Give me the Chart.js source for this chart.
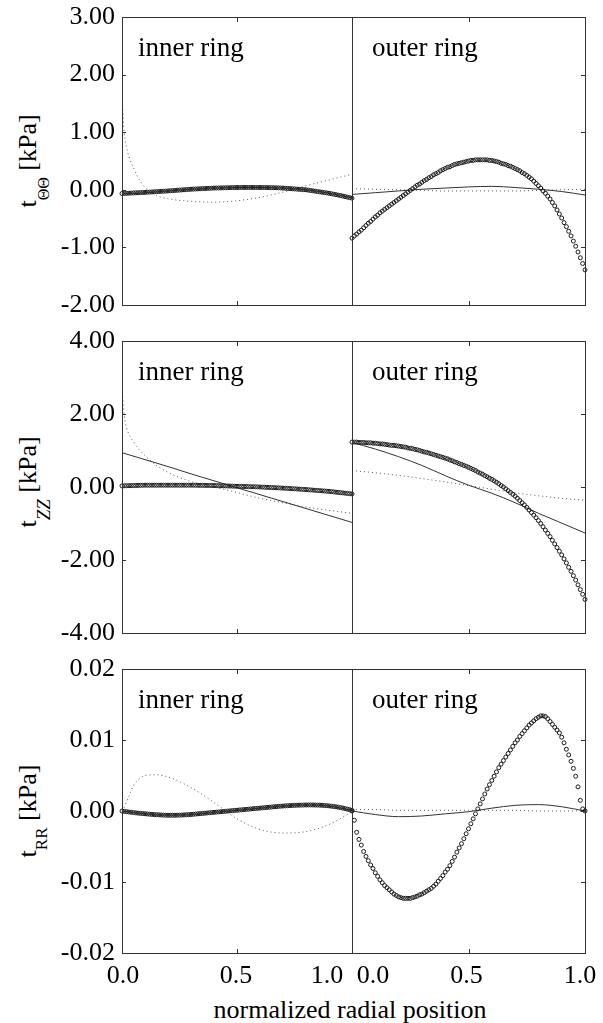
<!DOCTYPE html>
<html><head><meta charset="utf-8">
<script src="https://cdn.jsdelivr.net/npm/chart.js@4.4.1/dist/chart.umd.min.js"></script>
<style>
html,body{margin:0;padding:0;background:#fff;}
body{width:603px;height:1023px;position:relative;overflow:hidden;font-family:"Liberation Serif","Times New Roman",Times,serif;color:#000;}
canvas{position:absolute;}
.yt{position:absolute;white-space:nowrap;font-size:26px;line-height:26px;transform:translate(-50%,-50%) rotate(-90deg);}
.yt sub{position:relative;vertical-align:baseline;line-height:0;}
.xt{position:absolute;white-space:nowrap;font-size:26px;line-height:26px;transform:translateX(-50%);}
</style></head>
<body>
<div class="yt" style="left:28px;top:161px">t<sub style="font-size:16px;top:13px">ΘΘ</sub> [kPa]</div>
<div class="yt" style="left:28px;top:482px">t<sub style="font-size:19px;top:14px"><i>ZZ</i></sub> [kPa]</div>
<div class="yt" style="left:28px;top:811px">t<sub style="font-size:17px;top:11px">RR</sub> [kPa]</div>
<div class="xt" style="left:350px;top:997px">normalized radial position</div>
<script>
const FONT = '"Liberation Serif","Times New Roman",Times,serif';

// sample positions (normalized radial position)
const rGrid = Array.from({length: 101}, (_, i) => i / 100);
const xL = [0,0.1,0.2,0.3,0.4,0.5,0.6,0.7,0.8,0.9,1.0];
const xD = [0,0.01,0.02,0.03,0.05,0.075,0.1,0.15,0.2,0.3,0.4,0.5,0.6,0.7,0.8,0.9,1.0];

// tick labels
const xTickValues = [0, 0.5, 1.0];
const xTickLabels = ['0.0', '0.5', '1.0'];
const ringLabels = ['inner ring', 'outer ring'];
const yTicksTT = [-2, -1, 0, 1, 2, 3];
const yLabelsTT = ['-2.00', '-1.00', '0.00', '1.00', '2.00', '3.00'];
const yTicksZZ = [-4, -2, 0, 2, 4];
const yLabelsZZ = ['-4.00', '-2.00', '0.00', '2.00', '4.00'];
const yTicksRR = [-0.02, -0.01, 0, 0.01, 0.02];
const yLabelsRR = ['-0.02', '-0.01', '0.00', '0.01', '0.02'];

// ---- t_ΘΘ ----
const ttInnerCircles = [-0.065,-0.063,-0.061,-0.059,-0.057,-0.055,-0.053,-0.051,-0.049,-0.047,
 -0.045,-0.042,-0.040,-0.037,-0.035,-0.032,-0.030,-0.027,-0.025,-0.022,
 -0.020,-0.017,-0.014,-0.011,-0.008,-0.005,-0.002,0.001,0.004,0.007,
 0.010,0.012,0.014,0.016,0.018,0.020,0.022,0.024,0.026,0.028,
 0.030,0.031,0.032,0.033,0.034,0.035,0.036,0.037,0.038,0.039,
 0.040,0.040,0.041,0.041,0.041,0.041,0.041,0.041,0.040,0.040,
 0.040,0.040,0.039,0.039,0.038,0.037,0.036,0.035,0.033,0.032,
 0.030,0.027,0.024,0.021,0.018,0.015,0.012,0.009,0.006,0.003,
 0.000,-0.006,-0.012,-0.018,-0.024,-0.030,-0.036,-0.042,-0.048,-0.054,
 -0.060,-0.068,-0.076,-0.084,-0.092,-0.100,-0.109,-0.118,-0.127,-0.136,
 -0.145];
const ttInnerSolid = [-0.07,-0.05,-0.02,0.01,0.03,0.04,0.04,0.03,0.00,-0.06,-0.14];
const ttInnerDotted = [1.60,0.98,0.73,0.58,0.38,0.18,0.04,-0.10,-0.155,-0.20,-0.215,-0.19,-0.13,-0.04,0.07,0.17,0.27];
const ttOuterCircles = [-0.84,-0.80,-0.77,-0.73,-0.70,-0.66,-0.62,-0.58,-0.55,-0.51,
 -0.47,-0.44,-0.40,-0.37,-0.34,-0.31,-0.28,-0.25,-0.22,-0.19,
 -0.16,-0.13,-0.10,-0.07,-0.04,-0.01,0.02,0.05,0.08,0.10,
 0.13,0.16,0.18,0.21,0.23,0.26,0.28,0.30,0.33,0.35,
 0.37,0.39,0.40,0.42,0.44,0.45,0.46,0.47,0.48,0.49,
 0.50,0.51,0.51,0.52,0.52,0.52,0.52,0.52,0.52,0.51,
 0.51,0.50,0.49,0.48,0.46,0.45,0.44,0.42,0.41,0.39,
 0.37,0.35,0.33,0.30,0.28,0.25,0.22,0.19,0.15,0.11,
 0.07,0.03,-0.02,-0.06,-0.11,-0.16,-0.22,-0.28,-0.35,-0.42,
 -0.49,-0.57,-0.64,-0.72,-0.80,-0.89,-0.98,-1.08,-1.18,-1.28,
 -1.39];
const ttOuterSolid = [-0.08,-0.05,-0.02,0.01,0.03,0.05,0.06,0.04,0.01,-0.03,-0.09];
const ttOuterDotted = [0.02,0.01,0.00,-0.01,-0.02,-0.02,-0.02,-0.02,-0.01,0.00,0.01];

// ---- t_ZZ ----
const zzInnerCircles = [0.030,0.032,0.034,0.036,0.038,0.040,0.042,0.044,0.046,0.048,
 0.050,0.050,0.050,0.050,0.050,0.050,0.050,0.050,0.050,0.050,
 0.050,0.050,0.050,0.050,0.050,0.050,0.050,0.050,0.050,0.050,
 0.050,0.049,0.048,0.047,0.046,0.045,0.044,0.043,0.042,0.041,
 0.040,0.038,0.036,0.034,0.032,0.030,0.028,0.026,0.024,0.022,
 0.020,0.018,0.016,0.014,0.012,0.010,0.008,0.006,0.004,0.002,
 0.000,-0.003,-0.006,-0.009,-0.012,-0.015,-0.018,-0.021,-0.024,-0.027,
 -0.030,-0.034,-0.038,-0.042,-0.046,-0.050,-0.054,-0.058,-0.062,-0.066,
 -0.070,-0.075,-0.080,-0.085,-0.090,-0.095,-0.100,-0.105,-0.110,-0.115,
 -0.120,-0.127,-0.134,-0.141,-0.148,-0.155,-0.162,-0.169,-0.176,-0.183,
 -0.190];
const zzInnerSolid = [0.94,0.75,0.56,0.36,0.17,-0.02,-0.21,-0.40,-0.59,-0.78,-0.97];
const zzInnerDotted = [2.70,1.95,1.62,1.45,1.24,1.02,0.86,0.59,0.40,0.15,0.00,-0.15,-0.31,-0.43,-0.55,-0.64,-0.72];
const zzOuterCircles = [1.23,1.23,1.23,1.22,1.22,1.22,1.21,1.21,1.21,1.20,
 1.20,1.19,1.18,1.18,1.17,1.16,1.15,1.14,1.14,1.13,
 1.12,1.11,1.10,1.09,1.07,1.06,1.05,1.03,1.02,1.00,
 0.98,0.96,0.95,0.93,0.91,0.89,0.87,0.85,0.83,0.81,
 0.79,0.77,0.74,0.72,0.69,0.67,0.64,0.62,0.59,0.57,
 0.54,0.51,0.48,0.45,0.41,0.38,0.35,0.31,0.28,0.24,
 0.21,0.17,0.13,0.09,0.04,0.00,-0.05,-0.10,-0.15,-0.20,
 -0.25,-0.31,-0.37,-0.43,-0.49,-0.56,-0.63,-0.70,-0.77,-0.84,
 -0.92,-1.00,-1.09,-1.18,-1.27,-1.36,-1.46,-1.56,-1.66,-1.76,
 -1.86,-1.97,-2.08,-2.20,-2.31,-2.43,-2.55,-2.68,-2.81,-2.94,
 -3.08];
const zzOuterSolid = [1.22,1.04,0.83,0.59,0.31,0.05,-0.17,-0.43,-0.72,-0.99,-1.26];
const zzOuterDotted = [0.45,0.39,0.32,0.23,0.14,0.04,-0.06,-0.16,-0.24,-0.31,-0.36];

// ---- t_RR ----
const rrInnerCircles = [0.00000,-0.00005,-0.00010,-0.00014,-0.00018,-0.00022,-0.00026,-0.00030,-0.00033,-0.00036,
 -0.00039,-0.00042,-0.00045,-0.00048,-0.00050,-0.00052,-0.00054,-0.00056,-0.00058,-0.00059,
 -0.00060,-0.00060,-0.00060,-0.00060,-0.00059,-0.00058,-0.00057,-0.00055,-0.00053,-0.00051,
 -0.00049,-0.00046,-0.00043,-0.00040,-0.00037,-0.00034,-0.00031,-0.00028,-0.00025,-0.00022,
 -0.00019,-0.00016,-0.00013,-0.00010,-0.00007,-0.00004,-0.00001,0.00002,0.00005,0.00008,
 0.00011,0.00014,0.00017,0.00020,0.00023,0.00026,0.00029,0.00032,0.00035,0.00038,
 0.00041,0.00044,0.00047,0.00050,0.00053,0.00056,0.00059,0.00062,0.00065,0.00068,
 0.00070,0.00072,0.00074,0.00076,0.00078,0.00080,0.00081,0.00082,0.00083,0.00084,
 0.00085,0.00085,0.00085,0.00085,0.00084,0.00083,0.00082,0.00080,0.00078,0.00075,
 0.00072,0.00068,0.00064,0.00059,0.00054,0.00048,0.00041,0.00034,0.00026,0.00018,
 0.00010];
const rrInnerSolid = [0,-0.0004,-0.0006,-0.0005,-0.0002,0.0001,0.0004,0.0007,0.00085,0.0007,0.0001];
const rrInnerDotted = [0.0000,0.0005,0.0013,0.0021,0.0036,0.0045,0.0050,0.0051,0.0048,0.0033,0.0012,-0.0011,-0.0026,-0.0031,-0.0029,-0.0019,-0.0001];
const rrOuterCircles = [0.0000,-0.0013,-0.0030,-0.0040,-0.0048,-0.0057,-0.0064,-0.0070,-0.0076,-0.0081,
 -0.0087,-0.0092,-0.0097,-0.0101,-0.0105,-0.0108,-0.0111,-0.0114,-0.0117,-0.0119,
 -0.0121,-0.0122,-0.0123,-0.0123,-0.0123,-0.0123,-0.0122,-0.0121,-0.0120,-0.0118,
 -0.0117,-0.0115,-0.0113,-0.0111,-0.0109,-0.0106,-0.0103,-0.0099,-0.0095,-0.0091,
 -0.0086,-0.0082,-0.0077,-0.0071,-0.0065,-0.0058,-0.0052,-0.0046,-0.0039,-0.0032,
 -0.0025,-0.0018,-0.0011,-0.0004,0.0003,0.0010,0.0017,0.0024,0.0031,0.0037,
 0.0043,0.0049,0.0055,0.0061,0.0066,0.0071,0.0076,0.0081,0.0086,0.0091,
 0.0096,0.0100,0.0105,0.0109,0.0113,0.0117,0.0121,0.0124,0.0127,0.0130,
 0.0132,0.0134,0.0134,0.0133,0.0130,0.0126,0.0122,0.0118,0.0114,0.0110,
 0.0104,0.0096,0.0087,0.0079,0.0070,0.0060,0.0049,0.0034,0.0015,0.0003,
 0.0000];
const rrOuterSolid = [0,-0.0005,-0.0008,-0.0007,-0.0004,-0.0001,0.0004,0.0008,0.0009,0.0006,0.0000];
const rrOuterDotted = [0.0002,0.0002,0.0001,0.0001,0.0001,0.0001,0.0001,0.0001,0.0000,0.0000,0.0000];

// ---------- layout (pixels) ----------
const PAD = 16;
const AXIS_W = 122, DIVIDER = 352, RIGHT = 585;

function pts(xs, ys) { return xs.map((x, i) => ({x: x, y: ys[i]})); }

function makeDeco(o) {
  return {
    id: 'deco',
    afterDraw(chart) {
      const ctx = chart.ctx, a = chart.chartArea, x = chart.scales.x, y = chart.scales.y;
      ctx.save();
      ctx.strokeStyle = '#333';
      ctx.lineWidth = 1;
      ctx.strokeRect(a.left + 0.5, a.top + 0.5, a.right - a.left, a.bottom - a.top);
      ctx.beginPath();
      o.yTicks.forEach(v => {
        const py = Math.round(y.getPixelForValue(v)) + 0.5;
        if (o.side === 'inner') { ctx.moveTo(a.left, py); ctx.lineTo(a.left + 4, py); }
        else { ctx.moveTo(a.right + 1, py); ctx.lineTo(a.right - 4, py); }
      });
      xTickValues.forEach(v => {
        const px = Math.round(x.getPixelForValue(v)) + 0.5;
        ctx.moveTo(px, a.top); ctx.lineTo(px, a.top + 5);
        ctx.moveTo(px, a.bottom + 1); ctx.lineTo(px, a.bottom - 4);
      });
      ctx.stroke();
      ctx.fillStyle = '#000';
      ctx.textAlign = 'left';
      ctx.textBaseline = 'alphabetic';
      ctx.font = '27px ' + FONT;
      ctx.fillText(o.label, a.left + o.labelDx, a.top + 39);
      if (o.showX) {
        ctx.font = '26px ' + FONT;
        ctx.textAlign = 'center';
        xTickValues.forEach((v, i) => {
          ctx.fillText(xTickLabels[i], x.getPixelForValue(v) + o.xNudge[i], a.bottom + 30);
        });
      }
      ctx.restore();
    }
  };
}

function buildDatasets(circles, solid, dotted, dottedX) {
  return [
    { data: pts(rGrid, circles), showLine: false, pointStyle: 'circle', pointRadius: 2,
      pointBorderWidth: 1, pointBorderColor: '#1a1a1a', pointBackgroundColor: 'rgba(0,0,0,0)', clip: false },
    { data: pts(xL, solid), showLine: true, pointRadius: 0, borderColor: '#333', borderWidth: 1,
      cubicInterpolationMode: 'monotone', fill: false },
    { data: pts(dottedX, dotted), showLine: true, pointRadius: 0, borderColor: '#555', borderWidth: 1,
      borderDash: [1, 3], cubicInterpolationMode: 'monotone', fill: false }
  ];
}

function makeChart(side, top, bottom, yMin, yMax, yTicks, yLabels, datasets, showX) {
  const canvas = document.createElement('canvas');
  const padBottom = showX ? PAD + 40 : PAD;
  const h = (bottom - top) + PAD + padBottom;
  let left, w, padding;
  if (side === 'inner') {
    left = 0; w = DIVIDER + PAD;
    padding = {left: 0, right: PAD, top: PAD, bottom: padBottom};
  } else {
    left = DIVIDER - PAD; w = (RIGHT - DIVIDER) + 2 * PAD;
    padding = {left: PAD, right: PAD, top: PAD, bottom: padBottom};
  }
  canvas.width = w; canvas.height = h;
  canvas.style.left = left + 'px'; canvas.style.top = (top - PAD) + 'px';
  canvas.style.width = w + 'px'; canvas.style.height = h + 'px';
  document.body.appendChild(canvas);

  const yScale = side === 'inner' ? {
    type: 'linear', min: yMin, max: yMax, position: 'left',
    afterBuildTicks: s => { s.ticks = yTicks.map(v => ({value: v})); },
    afterFit: s => { s.width = AXIS_W; s.paddingTop = 0; s.paddingBottom = 0; },
    grid: {display: false, drawTicks: false}, border: {display: false},
    ticks: {padding: 7, color: '#000', font: {family: FONT, size: 26}, callback: (v, i) => yLabels[i]}
  } : { type: 'linear', min: yMin, max: yMax, display: false };

  return new Chart(canvas, {
    type: 'scatter',
    data: { datasets: datasets },
    options: {
      responsive: false, maintainAspectRatio: false, animation: false, events: [],
      devicePixelRatio: 1,
      layout: { padding: padding },
      plugins: { legend: {display: false}, tooltip: {enabled: false} },
      scales: {
        x: { type: 'linear', min: 0, max: 1, display: false },
        y: yScale
      }
    },
    plugins: [makeDeco({
      side: side, yTicks: yTicks,
      label: side === 'inner' ? ringLabels[0] : ringLabels[1],
      labelDx: side === 'inner' ? 16 : 20,
      showX: showX,
      xNudge: side === 'inner' ? [1, -1, -25] : [21, -2, -5]
    })]
  });
}

Chart.defaults.font.family = FONT;

// panel 1: t_ΘΘ
makeChart('inner', 17, 305, -2, 3, yTicksTT, yLabelsTT, buildDatasets(ttInnerCircles, ttInnerSolid, ttInnerDotted, xD), false);
makeChart('outer', 17, 305, -2, 3, yTicksTT, yLabelsTT, buildDatasets(ttOuterCircles, ttOuterSolid, ttOuterDotted, xL), false);
// panel 2: t_ZZ
makeChart('inner', 341, 633, -4, 4, yTicksZZ, yLabelsZZ, buildDatasets(zzInnerCircles, zzInnerSolid, zzInnerDotted, xD), false);
makeChart('outer', 341, 633, -4, 4, yTicksZZ, yLabelsZZ, buildDatasets(zzOuterCircles, zzOuterSolid, zzOuterDotted, xL), false);
// panel 3: t_RR
makeChart('inner', 669, 953, -0.02, 0.02, yTicksRR, yLabelsRR, buildDatasets(rrInnerCircles, rrInnerSolid, rrInnerDotted, xD), true);
makeChart('outer', 669, 953, -0.02, 0.02, yTicksRR, yLabelsRR, buildDatasets(rrOuterCircles, rrOuterSolid, rrOuterDotted, xL), true);
</script>
</body></html>
